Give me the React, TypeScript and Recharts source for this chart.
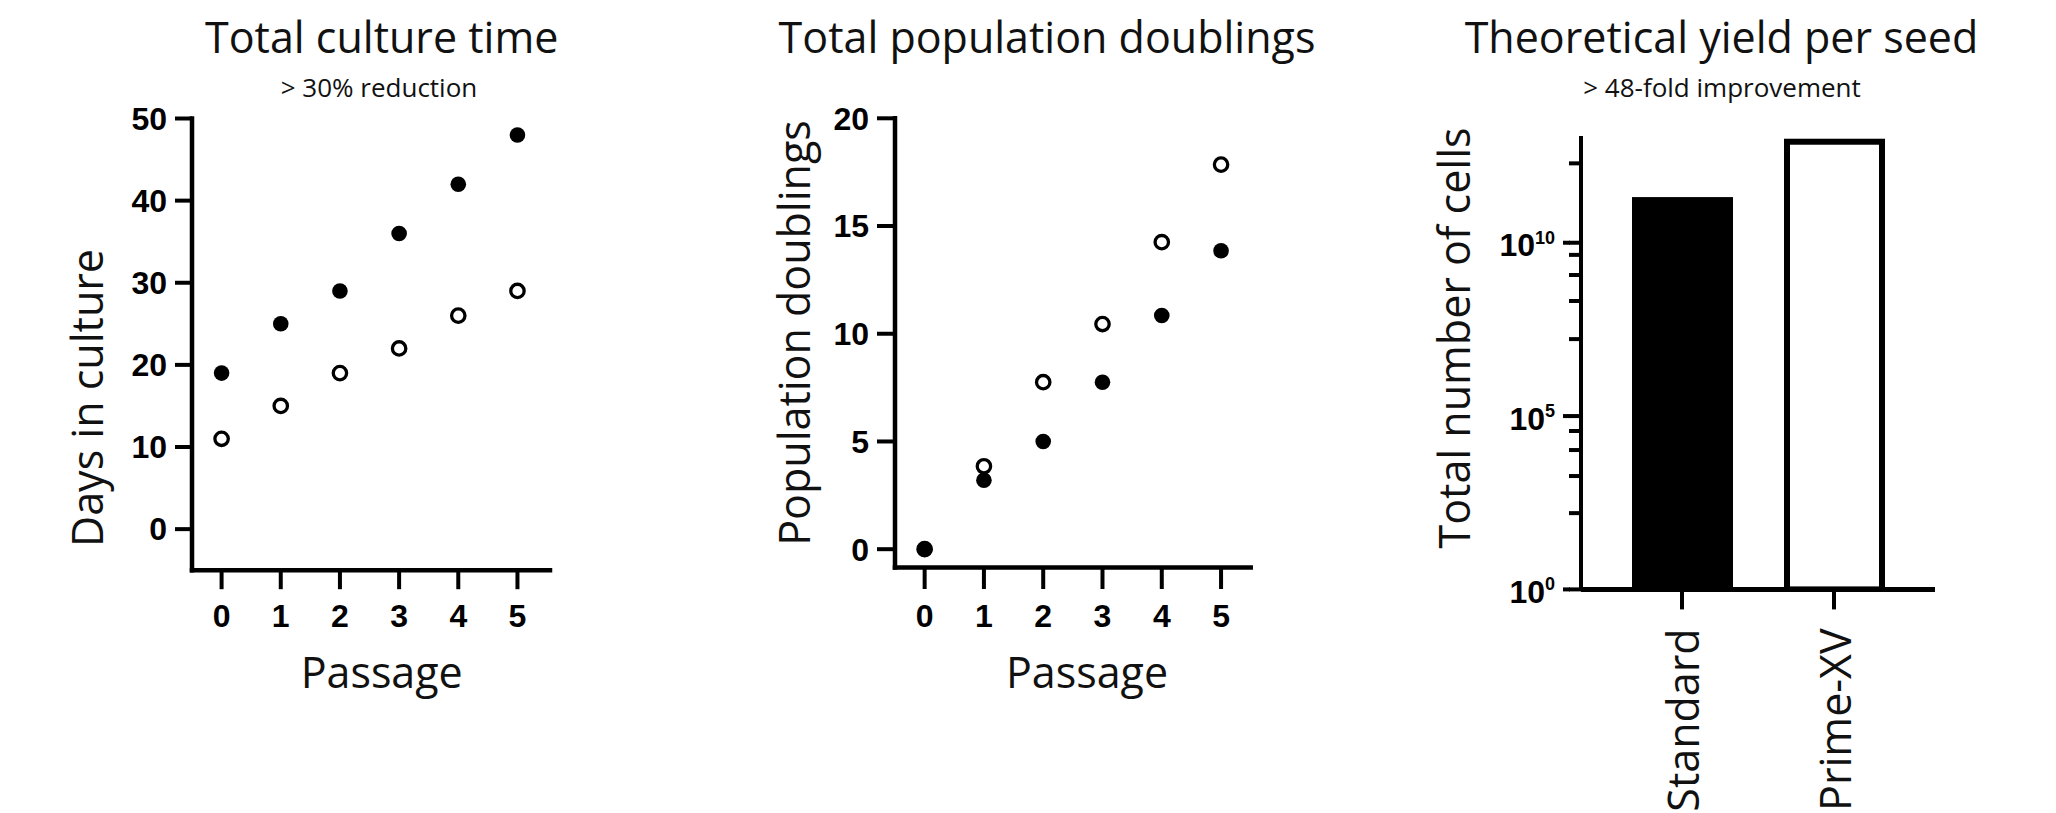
import React from 'react';
import { ScatterChart, Scatter, XAxis, YAxis, BarChart, Bar } from 'recharts';

// ---------- data ----------
const passages = [0, 1, 2, 3, 4, 5];
const cultureStandard = [19, 25, 29, 36, 42, 48];
const culturePrimeXV = [11, 15, 19, 22, 26, 29];
const doublingsStandard = [0, 3.2, 5, 7.75, 10.85, 13.85];
const doublingsPrimeXV = [0, 3.85, 7.75, 10.45, 14.25, 17.85];
const yieldCategories = ['Standard', 'Prime-XV'];
const yieldValues = [1.7e11, 8.2e12];
const yieldFills = ['#000000', '#ffffff'];

const cultureTicks = [0, 10, 20, 30, 40, 50];
const doublingTicks = [0, 5, 10, 15, 20];
const passageTicks = [0, 1, 2, 3, 4, 5];
const yieldMajorExponents = [0, 5, 10];
const yieldMinorExponents = [2.2, 3.27, 4.02, 4.57, 7.22, 8.32, 9.07, 9.65, 12.29];

const titles = ['Total culture time', 'Total population doublings', 'Theoretical yield per seed'];
const subtitles = ['> 30% reduction', '', '> 48-fold improvement'];
const yLabels = ['Days in culture', 'Population doublings', 'Total number of cells'];
const xLabels = ['Passage', 'Passage', ''];

// ---------- derived tables ----------
const cultureStdData = passages.map((p, i) => ({ x: p, y: cultureStandard[i] }));
const culturePxvData = passages.map((p, i) => ({ x: p, y: culturePrimeXV[i] }));
const doublStdData = passages.map((p, i) => ({ x: p, y: doublingsStandard[i] }));
const doublPxvData = passages.map((p, i) => ({ x: p, y: doublingsPrimeXV[i] }));
const yieldData = yieldCategories.map((c, i) => ({ name: c, value: yieldValues[i], fill: yieldFills[i] }));
const yieldTicks = [...yieldMajorExponents, ...yieldMinorExponents]
  .sort((a, b) => a - b)
  .map((e) => Math.pow(10, e));

// ---------- styles ----------
const TEXT_FONT = '"Open Sans", sans-serif';
const TICK_FONT = '"Liberation Sans", Arial, sans-serif';
const TEXT_COLOR = '#111111';
const tickStyle = { fill: '#000', fontSize: 32, fontWeight: 700, fontFamily: TICK_FONT };
const axisLineStyle = { stroke: '#000', strokeWidth: 4.5, strokeLinecap: 'square' as const };
const tickLineStyle = { stroke: '#000', strokeWidth: 4 };

const FilledDot = (props: any) => <circle cx={props.cx} cy={props.cy} r={7.8} fill="#000" />;
const OpenDot = (props: any) => (
  <circle cx={props.cx} cy={props.cy} r={6.7} fill="none" stroke="#000" strokeWidth={3.3} />
);

// default tick line is the 12px minor length; majors get an extra 6px stub + label
const LogTick = (props: any) => {
  const { x, y, payload } = props;
  const exp = Math.round(Math.log10(payload.value) * 100) / 100;
  const isMajor = yieldMajorExponents.includes(exp);
  if (!isMajor) return <g />;
  return (
    <g>
      <line x1={x + 8} x2={x + 15} y1={y} y2={y} stroke="#000" strokeWidth={4} />
      <text x={x} y={y + 13.5} textAnchor="end" fontFamily={TICK_FONT} fontWeight={700} fill="#000">
        <tspan fontSize={32}>10</tspan>
        <tspan fontSize={18} dy={-12.5}>{exp}</tspan>
      </text>
    </g>
  );
};

const CategoryTick = (props: any) => {
  const { x, y, payload } = props;
  return (
    <text
      transform={`translate(${x},${y}) rotate(-90)`}
      textAnchor="end"
      dy={17}
      fontFamily={TEXT_FONT}
      fontSize={43}
      fill={TEXT_COLOR}
    >
      {payload.value}
    </text>
  );
};

const YieldBar = (props: any) => {
  const { x, y, width, height, payload } = props;
  if (width == null || height == null) return null;
  return <rect x={x} y={y} width={width} height={height} fill={payload.fill} stroke="#000" strokeWidth={6} />;
};

export default function App() {
  return (
    <div
      style={{
        position: 'absolute',
        left: 0,
        top: 0,
        width: 2056,
        height: 813,
        background: '#fff',
        overflow: 'hidden',
      }}
    >
      {/* Chart 1 */}
      <div style={{ position: 'absolute', left: 0, top: 0 }}>
        <ScatterChart width={700} height={813} margin={{ top: 118.5, right: 150, bottom: 182.8, left: 0 }}>
          <XAxis type="number" dataKey="x" domain={[-0.5, 5.55]} ticks={passageTicks} interval={0} allowDataOverflow height={60} tickSize={19} tickMargin={15} tick={tickStyle} axisLine={axisLineStyle} tickLine={tickLineStyle} />
          <YAxis type="number" dataKey="y" domain={[-5, 50]} ticks={cultureTicks} interval={0} allowDataOverflow width={192} tickSize={17} tickMargin={8} tick={tickStyle} axisLine={axisLineStyle} tickLine={tickLineStyle} />
          <Scatter data={cultureStdData} shape={FilledDot} isAnimationActive={false} />
          <Scatter data={culturePxvData} shape={OpenDot} isAnimationActive={false} />
        </ScatterChart>
      </div>

      {/* Chart 2 */}
      <div style={{ position: 'absolute', left: 700, top: 0 }}>
        <ScatterChart width={650} height={813} margin={{ top: 118.3, right: 99.3, bottom: 185.5, left: 0 }}>
          <XAxis type="number" dataKey="x" domain={[-0.5, 5.5]} ticks={passageTicks} interval={0} allowDataOverflow height={60} tickSize={21.5} tickMargin={15.5} tick={tickStyle} axisLine={axisLineStyle} tickLine={tickLineStyle} />
          <YAxis type="number" dataKey="y" domain={[-0.85, 20]} ticks={doublingTicks} interval={0} allowDataOverflow width={195} tickSize={18} tickMargin={8} tick={tickStyle} axisLine={axisLineStyle} tickLine={tickLineStyle} />
          <Scatter data={doublStdData} shape={FilledDot} isAnimationActive={false} />
          <Scatter data={doublPxvData} shape={OpenDot} isAnimationActive={false} />
        </ScatterChart>
      </div>

      {/* Chart 3 */}
      <div style={{ position: 'absolute', left: 1350, top: 0 }}>
        <BarChart width={706} height={813} data={yieldData} margin={{ top: 136, right: 121, bottom: 23.6, left: 0 }}>
          <XAxis dataKey="name" type="category" padding={{ left: 25, right: 25 }} interval={0} height={200} tickSize={20} tickMargin={19} tick={<CategoryTick />} axisLine={{ stroke: '#000', strokeWidth: 5 }} tickLine={tickLineStyle} />
          <YAxis
            type="number"
            scale="log"
            domain={[1, 1.2e13]}
            allowDataOverflow
            ticks={yieldTicks}
            interval={0}
            width={231}
            tickSize={12}
            tickMargin={14}
            tickLine={{ stroke: '#000', strokeWidth: 4 }}
            tick={<LogTick />}
            axisLine={{ stroke: '#000', strokeWidth: 4 }}
          />
          <Bar dataKey="value" barSize={95} shape={YieldBar} isAnimationActive={false} />
        </BarChart>
      </div>

      {/* Titles and axis labels */}
      <svg width={2056} height={813} style={{ position: 'absolute', left: 0, top: 0, pointerEvents: 'none' }} fontFamily={TEXT_FONT} fill={TEXT_COLOR}>
        <text x={381.7} y={53.3} fontSize={43} textAnchor="middle">{titles[0]}</text>
        <text x={379} y={96.7} fontSize={26} textAnchor="middle">{subtitles[0]}</text>
        <text x={1047} y={53.3} fontSize={43} textAnchor="middle">{titles[1]}</text>
        <text x={1721.5} y={53.3} fontSize={43} textAnchor="middle">{titles[2]}</text>
        <text x={1722} y={96.7} fontSize={26} textAnchor="middle">{subtitles[2]}</text>
        <text transform="translate(103,398) rotate(-90)" fontSize={43} textAnchor="middle">{yLabels[0]}</text>
        <text transform="translate(810,333) rotate(-90)" fontSize={43} textAnchor="middle">{yLabels[1]}</text>
        <text transform="translate(1470,338) rotate(-90)" fontSize={43} textAnchor="middle">{yLabels[2]}</text>
        <text x={381.7} y={688.3} fontSize={43} textAnchor="middle">{xLabels[0]}</text>
        <text x={1087} y={688.3} fontSize={43} textAnchor="middle">{xLabels[1]}</text>
      </svg>
    </div>
  );
}
